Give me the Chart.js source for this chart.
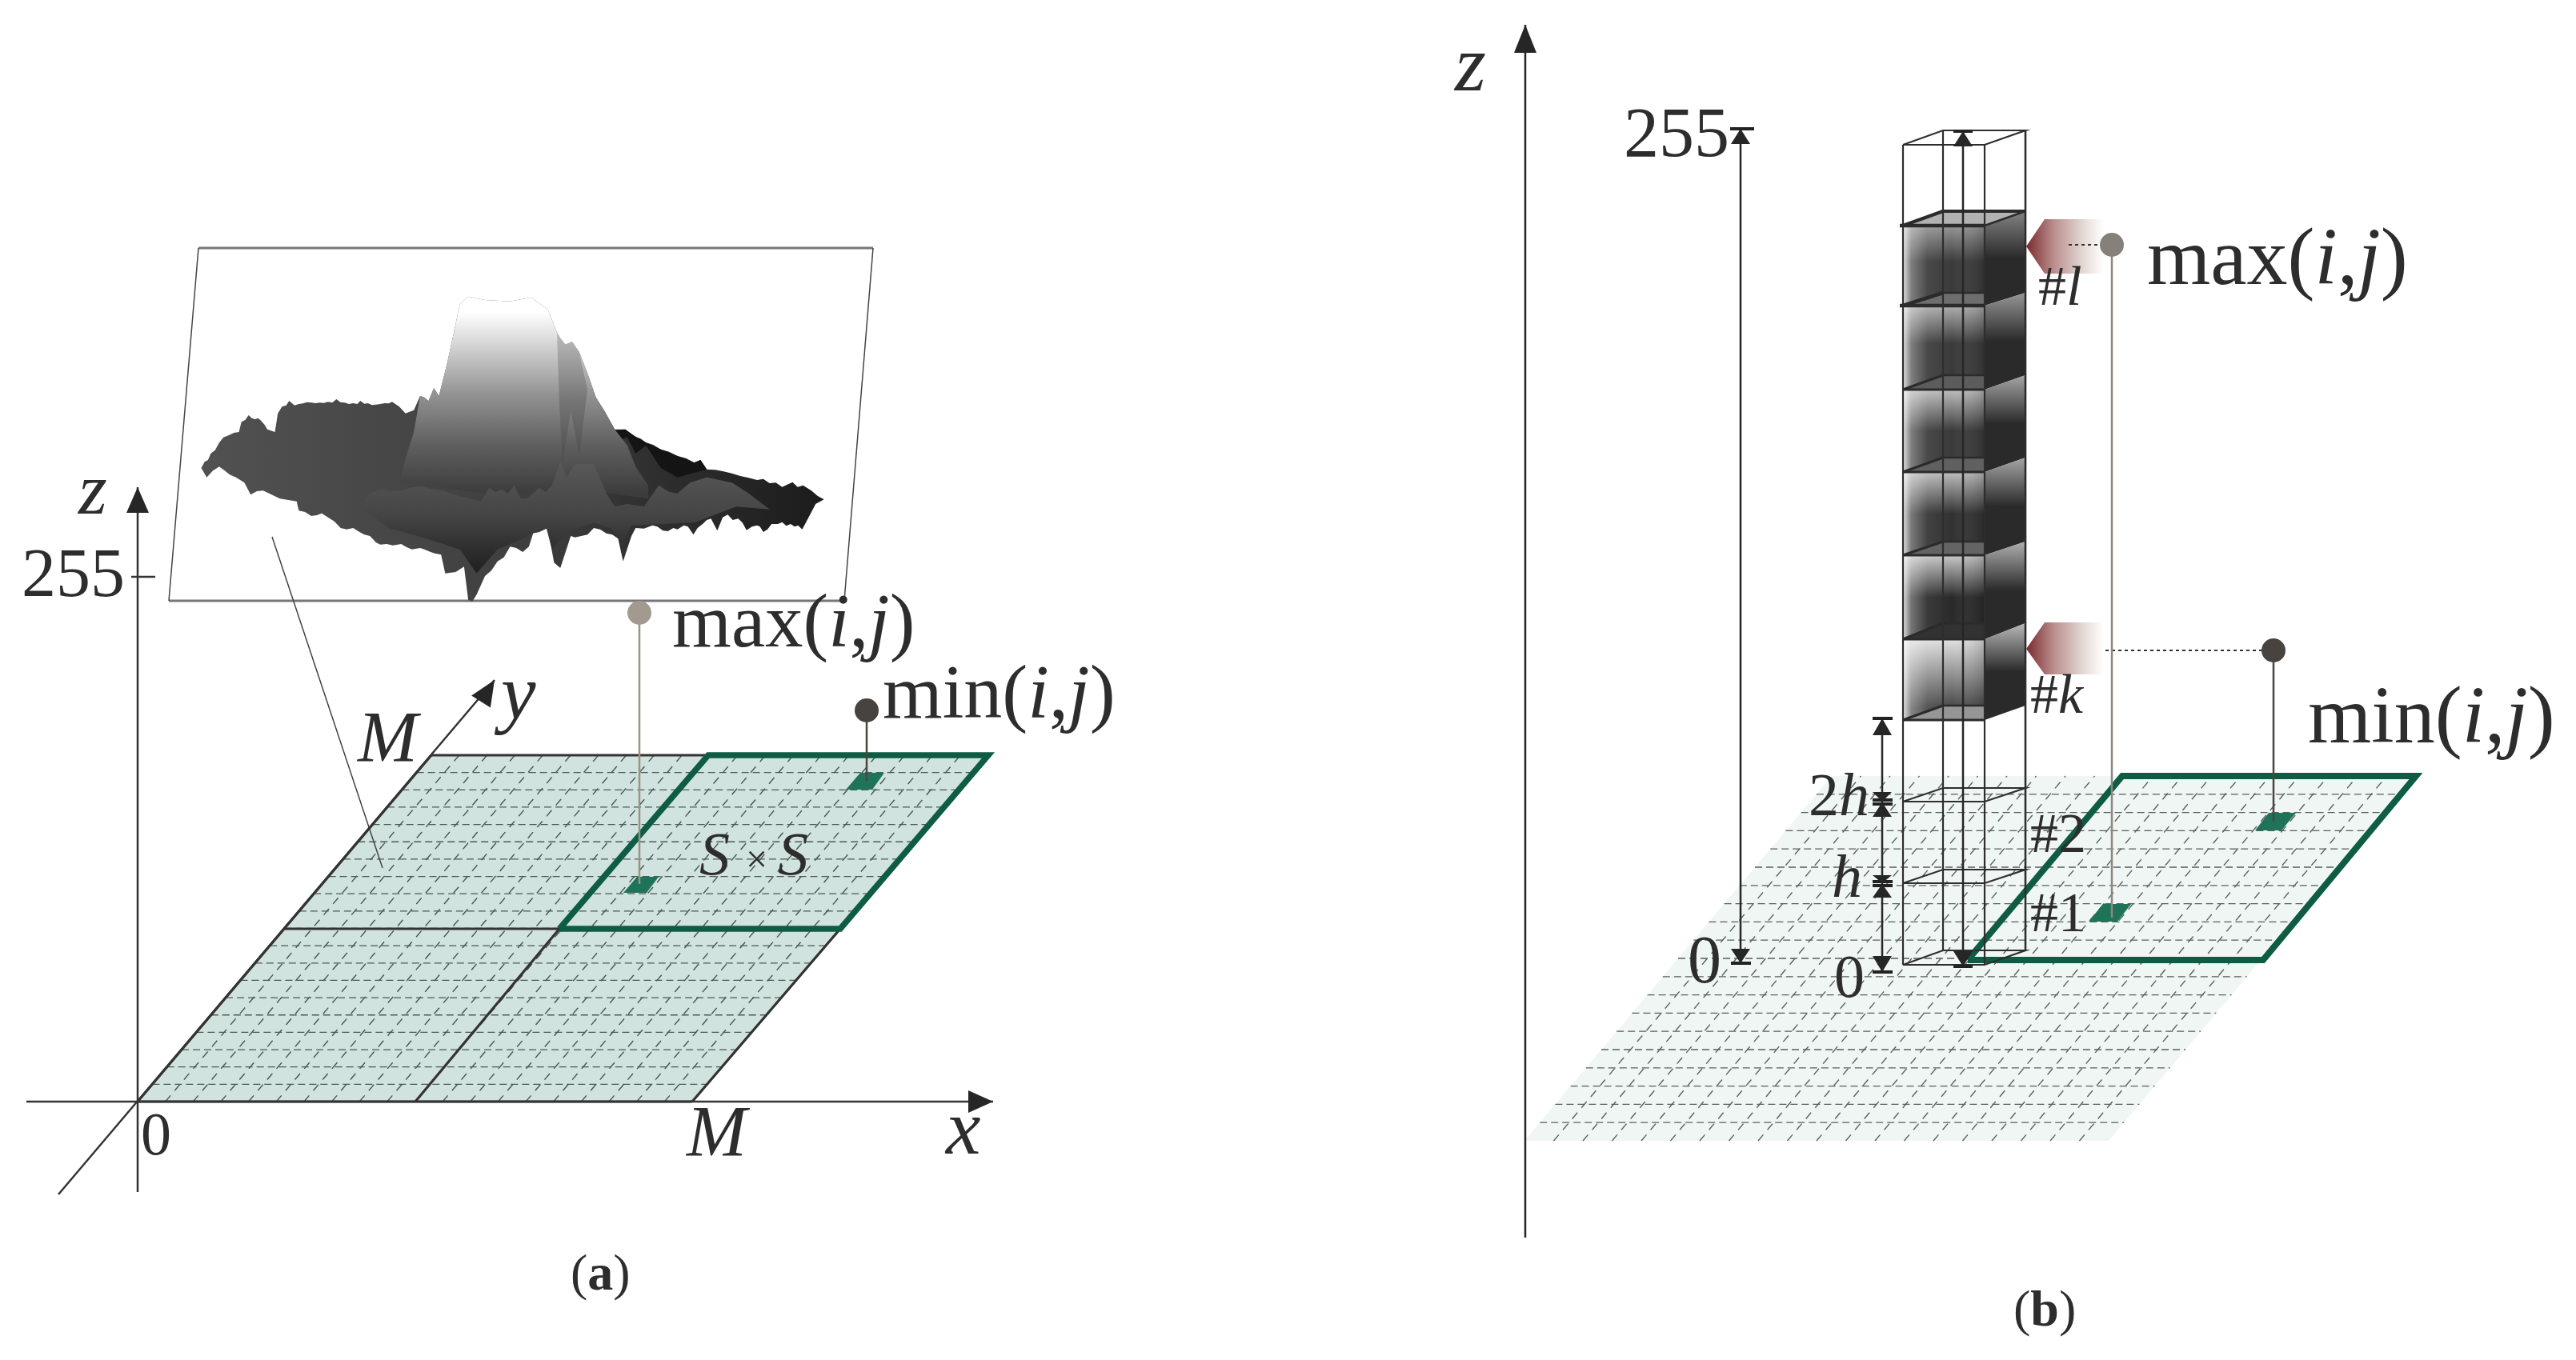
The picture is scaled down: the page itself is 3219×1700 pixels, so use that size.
<!DOCTYPE html>
<html>
<head>
<meta charset="utf-8">
<title>Height map slices</title>
<script src="https://cdn.jsdelivr.net/npm/chart.js@4/dist/chart.umd.min.js"></script>
<style>
    html, body { margin: 0; padding: 0; background: #fff; }
    canvas { display: block; }
</style>
</head>
<body>
<canvas id="chart" width="3219" height="1700"></canvas>
<script>
// panel (a), picture units
const planeA = [[172, 1377], [865, 1377], [1235, 944], [539, 944]];
const windowA = [[699, 1161], [1050, 1161], [1235, 944], [885, 944]];
const insetFrame = [[248, 310], [1091, 310], [1055, 751], [211, 751]];
const cellMaxA = [[779, 1116], [808, 1116], [823, 1096], [796, 1096]];
const cellMinA = [[1057, 987], [1090, 987], [1105, 966], [1075, 966]];
const darkEdgesA = [
    [[172, 1377], [539, 944]], [[539, 944], [885, 944]], [[355, 1161], [699, 1161]],
    [[519, 1377], [699, 1161]], [[865, 1377], [1050, 1161]], [[172, 1377], [865, 1377]],
];
const axesA = [
    [[33, 1377], [1241, 1377]], [[172, 1490], [172, 609]], [[73, 1493], [618, 850]], [[164, 721], [194, 721]],
];
const axisTipsA = [[172, 609, 172, 641], [1241, 1377, 1210, 1377], [618, 850, 601, 877]];
const leaderA = [[340, 671], [478, 1085]];

// surface outline, in its own units (see xSurface / ySurface scales)
const surfaceTop = [
    [22, 735], [30, 712], [38, 705], [45, 680], [55, 668], [65, 640], [75, 620], [88, 612], [100, 603], [112, 600], [118, 562],
    [127, 555], [135, 537], [143, 548], [150, 552], [158, 548], [165, 558], [173, 572], [180, 590], [198, 600], [205, 530],
    [215, 505], [225, 500], [232, 483], [245, 500], [255, 495], [265, 493], [275, 488], [285, 490], [295, 492], [305, 490],
    [315, 491], [325, 487], [335, 490], [345, 477], [355, 489], [365, 490], [375, 495], [385, 492], [395, 495], [402, 483],
    [412, 494], [420, 492], [430, 499], [440, 497], [450, 495], [460, 492], [470, 493], [478, 487], [495, 505], [510, 530],
    [530, 518], [545, 465], [555, 470], [565, 484], [578, 435], [590, 465], [610, 340], [625, 230], [640, 120], [660, 92],
    [700, 105], [760, 110], [810, 95], [850, 140], [870, 220], [880, 250], [892, 272], [908, 262], [925, 300], [945, 380],
    [965, 470], [985, 520], [1010, 590], [1035, 590], [1060, 618], [1072, 625], [1085, 640], [1102, 648], [1120, 665],
    [1140, 674], [1160, 690], [1180, 698], [1200, 715], [1215, 705], [1230, 740], [1250, 742], [1270, 748], [1290, 755],
    [1310, 765], [1330, 772], [1350, 780], [1365, 776], [1380, 792], [1395, 790], [1410, 806], [1435, 788], [1447, 806],
    [1460, 800], [1480, 820], [1495, 840], [1510, 853],
];
const surfaceBottom = [
    [1490, 870], [1480, 900], [1470, 930], [1458, 965], [1448, 950], [1440, 955], [1430, 945], [1420, 952], [1410, 938],
    [1400, 945], [1385, 945], [1375, 965], [1365, 975], [1357, 955], [1350, 950], [1338, 955], [1325, 968], [1315, 940],
    [1305, 925], [1292, 930], [1280, 910], [1268, 920], [1255, 970], [1240, 925], [1230, 930], [1220, 945], [1208, 960],
    [1198, 985], [1185, 955], [1175, 950], [1160, 965], [1150, 960], [1137, 972], [1125, 970], [1112, 955], [1100, 950],
    [1080, 962], [1060, 960], [1050, 990], [1030, 1085], [1018, 1000], [1004, 985], [990, 980], [975, 965], [960, 960],
    [945, 985], [930, 990], [915, 995], [905, 990], [880, 1110], [865, 1090], [850, 960], [830, 975], [815, 980],
    [805, 1030], [790, 1050], [775, 1035], [760, 1030], [745, 1070], [730, 1085], [715, 1120], [700, 1140], [680, 1210],
    [670, 1235], [660, 1230], [650, 1105], [630, 1125], [605, 1130], [595, 1060], [580, 1055], [570, 1050], [555, 1040],
    [545, 1035], [525, 1040], [510, 1030], [500, 1020], [480, 1025], [465, 1020], [450, 1022], [440, 1015], [425, 990],
    [412, 985], [400, 975], [385, 960], [370, 965], [355, 960], [340, 935], [325, 920], [310, 905], [298, 912], [285, 915],
    [270, 900], [255, 895], [250, 860], [230, 855], [210, 850], [190, 835], [170, 820], [155, 822], [140, 835], [125, 790],
    [105, 770], [90, 760], [78, 745], [65, 730], [50, 745], [35, 770],
];
const surfacePeak = [
    [495, 790], [510, 700], [530, 600], [545, 465], [555, 470], [565, 484], [578, 435], [590, 465], [610, 340], [625, 230],
    [640, 120], [660, 92], [700, 105], [760, 110], [810, 95], [850, 140], [870, 220], [880, 250], [892, 272], [908, 262],
    [925, 300], [945, 380], [965, 470], [985, 520], [1010, 590], [1040, 650], [1060, 730], [1090, 800], [1090, 850],
    [1000, 830], [900, 820], [700, 830], [600, 810],
];
const surfaceFold = [[872, 230], [892, 272], [908, 262], [925, 300], [945, 440], [925, 690], [905, 520], [885, 720], [878, 500]];
const surfaceBack = [
    [1010, 595], [1035, 590], [1060, 618], [1085, 640], [1120, 665], [1160, 690], [1200, 715], [1215, 705], [1230, 740],
    [1160, 770], [1120, 735], [1085, 650], [1060, 680], [1040, 620], [1020, 630],
];
const surfaceFront = [
    [400, 880], [425, 830], [450, 815], [475, 822], [500, 820], [525, 808], [550, 805], [575, 815], [600, 820], [625, 835],
    [650, 845], [690, 860], [710, 810], [725, 825], [740, 815], [755, 830], [770, 800], [785, 850], [800, 850], [830, 810],
    [845, 825], [860, 800], [880, 710], [895, 770], [915, 720], [960, 720], [990, 830], [1010, 880], [1040, 870], [1080, 880],
    [1115, 800], [1140, 825], [1160, 830], [1190, 790], [1230, 770], [1290, 790], [1330, 830], [1380, 890], [1300, 880],
    [1200, 940], [1050, 950], [1030, 1010], [1000, 960], [960, 940], [890, 980], [860, 1040], [845, 950], [790, 1000], [730, 1040],
    [680, 1130], [640, 1040], [560, 1000], [470, 960],
];

// panel (b), picture units
const planeB = [[1905, 1426], [2635, 1426], [3019, 970], [2289, 970]];
const windowB = [[2459, 1200], [2828, 1200], [3019, 970], [2652, 970]];
const cellMaxB = [[2610, 1152], [2646, 1152], [2663, 1130], [2628, 1130]];
const cellMinB = [[2818, 1038], [2851, 1038], [2869, 1016], [2835, 1016]];
const columnX = [2378, 2428, 2480, 2531];
const sliceFront = [282, 382, 487, 590, 694, 799, 900];
const sliceBack = [264, 366, 469, 572, 677, 779, 882];
const sliceLight = [150, 175, 190, 190, 200, 225];
const sliceDark = [58, 58, 58, 50, 42, 70];
const sliceFade = [0.45, 0.45, 0.5, 0.5, 0.5, 0.85];
const sideLight = [130, 150, 165, 165, 175, 185];
const capGray = [178, 110, 92, 96, 100, 50, 150];
const wireFront = [181, 1002, 1104, 1206];
const wireBack = [163, 985, 1087, 1188];
const measureLinesB = [
    [[1906, 1547], [1906, 31]], [[2175, 161], [2175, 1204]], [[2352, 898], [2352, 1215]], [[2453, 164], [2453, 1208]],
];
const measureBars = [
    [2162, 2192, 161], [2163, 2188, 1204], [2340, 2365, 898], [2340, 2365, 1000], [2340, 2365, 1005],
    [2340, 2365, 1102], [2340, 2365, 1107], [2340, 2365, 1215], [2441, 2465, 164], [2441, 2465, 1208],
];
const measureTips = [
    [1906, 31, 1906, 66], [2175, 161, 2175, 180], [2175, 1204, 2175, 1186], [2352, 898, 2352, 919],
    [2352, 1002, 2352, 990], [2352, 1003, 2352, 1021], [2352, 1104, 2352, 1094], [2352, 1105, 2352, 1122],
    [2352, 1215, 2352, 1195], [2453, 164, 2453, 183], [2453, 1208, 2453, 1189],
];
const markerL = [[2532, 308], [2555, 274], [2629, 274], [2629, 342], [2555, 342]];
const markerK = [[2532, 811], [2555, 778], [2629, 778], [2629, 843], [2555, 843]];

// stems and dots
const stems = [
    [[799, 766], [799, 1105], "#9a9288"], [[1083, 888], [1083, 976], "#4a4642"],
    [[2639, 306], [2639, 1147], "#8d8780"], [[2841, 813], [2841, 1027], "#4a4642"],
];
const dots = [[799, 766, "#a39a8f"], [1083, 888, "#48433f"], [2639, 306, "#85807a"], [2841, 813, "#48433f"]];
const dottedLines = [[[2631, 813], [2841, 813]], [[2585, 306], [2639, 306]]];

// text: x, baseline, size, segments of [string, style]
const labels = [
    [98, 642, 92, [["z", "i"]]],
    [27, 745, 86, [["255", ""]]],
    [840, 808, 95, [["max(", ""], ["i", "i"], [",", ""], ["j", "i"], [")", ""]]],
    [1103, 897, 96, [["min(", ""], ["i", "i"], [",", ""], ["j", "i"], [")", ""]]],
    [626, 898, 98, [["y", "i"]]],
    [447, 952, 90, [["M", "i"]]],
    [874, 1093, 76, [["S", "i"]]],
    [932, 1090, 48, [["×", ""]]],
    [972, 1093, 76, [["S", "i"]]],
    [176, 1443, 76, [["0", ""]]],
    [858, 1445, 90, [["M", "i"]]],
    [1182, 1442, 98, [["x", "i"]]],
    [713, 1612, 64, [["(", ""], ["a", "b"], [")", ""]]],
    [1818, 113, 100, [["z", "i"]]],
    [2029, 195, 88, [["255", ""]]],
    [2683, 355, 102, [["max(", ""], ["i", "i"], [",", ""], ["j", "i"], [")", ""]]],
    [2884, 928, 102, [["min(", ""], ["i", "i"], [",", ""], ["j", "i"], [")", ""]]],
    [2547, 381, 70, [["#", ""], ["l", "i"]]],
    [2537, 891, 70, [["#", ""], ["k", "i"]]],
    [2537, 1065, 70, [["#2", ""]]],
    [2537, 1164, 70, [["#1", ""]]],
    [2109, 1228, 84, [["0", ""]]],
    [2292, 1246, 76, [["0", ""]]],
    [2260, 1019, 76, [["2", ""], ["h", "i"]]],
    [2289, 1121, 76, [["h", "i"]]],
    [2516, 1657, 64, [["(", ""], ["b", "b"], [")", ""]]],
];

const GRID_CELLS = 20;
const LINE_DARK = "#333333";
const GREEN = "#0f5c45";
const CELL_GREEN = "#1f7359";
const toPoints = (pairs) => pairs.map(([x, y]) => ({ x, y }));
const gray = (v) => `rgb(${v},${v},${v})`;
const marks = [];

function addLine(pairs, color, width, dash) {
    marks.push({ data: toPoints(pairs), borderColor: color, borderWidth: width, borderDash: dash || [], fill: false });
}

function addShape(pairs, background, edge, width, axes) {
    marks.push({
        data: toPoints([...pairs, pairs[0]]),
        backgroundColor: background,
        borderColor: edge || "transparent",
        borderWidth: edge ? width : 0,
        fill: "shape",
        xAxisID: axes ? "xSurface" : "x",
        yAxisID: axes ? "ySurface" : "y",
    });
}

// builds a gradient along a line between two values of the named scales
function gradient(xId, yId, from, to, stops) {
    return (context) => {
        const { chart } = context;
        const x0 = chart.scales[xId].getPixelForValue(from[0]);
        const y0 = chart.scales[yId].getPixelForValue(from[1]);
        const x1 = chart.scales[xId].getPixelForValue(to[0]);
        const y1 = chart.scales[yId].getPixelForValue(to[1]);
        if (![x0, y0, x1, y1].every(Number.isFinite)) {
            return "transparent";
        }
        const g = chart.ctx.createLinearGradient(x0, y0, x1, y1);
        stops.forEach(([at, color]) => g.addColorStop(at, color));
        return g;
    };
}

function addPlane(corners, fillColor, rowColor, columnColor) {
    const [bl, br, tr, tl] = corners;
    addShape(corners, fillColor);
    for (let i = 1; i < GRID_CELLS; i += 1) {
        const t = i / GRID_CELLS;
        addLine([[bl[0] + (br[0] - bl[0]) * t, bl[1]], [tl[0] + (tr[0] - tl[0]) * t, tl[1]]], columnColor, 1.4, [10, 8]);
        addLine([[bl[0] + (tl[0] - bl[0]) * t, bl[1] + (tl[1] - bl[1]) * t], [br[0] + (tr[0] - br[0]) * t, br[1] + (tr[1] - br[1]) * t]], rowColor, 1.3, [9, 5]);
    }
}

function addTip([tipX, tipY, baseX, baseY], halfWidth) {
    const len = Math.hypot(baseX - tipX, baseY - tipY);
    const nx = -(baseY - tipY) / len * halfWidth;
    const ny = (baseX - tipX) / len * halfWidth;
    addShape([[tipX, tipY], [baseX + nx, baseY + ny], [baseX - nx, baseY - ny]], "#262626");
}

function drawPanelA() {
    addPlane(planeA, "#d1e3de", "#4a5a55", "#465651");
    addShape(insetFrame, "#ffffff");
    addLine([insetFrame[0], insetFrame[1]], "#777777", 3);
    addLine([insetFrame[2], insetFrame[3]], "#777777", 3);
    addLine([insetFrame[1], insetFrame[2]], "#444444", 1.5);
    addLine([insetFrame[3], insetFrame[0]], "#444444", 1.5);
    addLine(leaderA, "#444444", 1.5);

    addShape([...surfaceTop, ...surfaceBottom], gradient("xSurface", "ySurface", [0, 0], [1500, 0], [[0, "#525252"], [0.5, "#404040"], [1, "#1c1c1c"]]), null, 0, true);
    addShape(surfaceBack, "#141414", null, 0, true);
    addShape(surfacePeak, gradient("xSurface", "ySurface", [0, 92], [0, 830], [[0, "#ffffff"], [0.08, "#ffffff"], [0.2, "#e0e0e0"], [0.5, "#929292"], [0.75, "#606060"], [1, "#3c3c3c"]]), null, 0, true);
    addShape(surfaceFold, gradient("xSurface", "ySurface", [0, 230], [0, 720], [[0, "#bbbbbb"], [0.5, "#777777"], [1, "#4a4a4a"]]), null, 0, true);
    addShape(surfaceFront, gradient("xSurface", "ySurface", [0, 720], [0, 1100], [[0, "#585858"], [0.5, "#454545"], [1, "#242424"]]), null, 0, true);

    darkEdgesA.forEach((edge) => addLine(edge, LINE_DARK, 3.2));
    addLine([planeA[1], planeA[2]], LINE_DARK, 2);
    axesA.forEach((axis) => addLine(axis, LINE_DARK, 2.5));
    axisTipsA.forEach((tip) => addTip(tip, 14));
    addShape(windowA, "transparent", GREEN, 7.5);
    addShape(cellMaxA, CELL_GREEN);
    addShape(cellMinA, CELL_GREEN);
}

function addSlice(i) {
    const [x0, x1, x2, x3] = columnX;
    const top = sliceFront[i];
    const bottom = sliceFront[i + 1];
    addShape([[x0, top], [x2, top], [x2, bottom], [x0, bottom]], gradient("x", "y", [0, top], [0, bottom], [
        [0, gray(sliceLight[i])], [sliceFade[i], gray(sliceDark[i])], [1, gray(sliceDark[i])],
    ]));
    addShape([[x0, top], [x2, top], [x2, bottom], [x0, bottom]], gradient("x", "y", [x0, 0], [x2, 0], [
        [0, "rgba(255,255,255,0.85)"], [0.1, "rgba(255,255,255,0.35)"], [0.3, "rgba(255,255,255,0.08)"], [0.6, "rgba(255,255,255,0)"], [1, "rgba(0,0,0,0.18)"],
    ]));
    addShape([[x2, top], [x3, sliceBack[i]], [x3, sliceBack[i + 1]], [x2, bottom]], gradient("x", "y", [0, sliceBack[i]], [0, bottom], [
        [0, gray(sideLight[i])], [0.5, "#2a2a2a"], [1, "#2a2a2a"],
    ]));
}

function drawPanelB() {
    addPlane(planeB, "#f0f6f4", "#565f5d", "#59635f");
    addShape(cellMaxB, CELL_GREEN);
    addShape(cellMinB, CELL_GREEN);
    addShape(windowB, "transparent", GREEN, 8);

    const [x0, x1, x2, x3] = columnX;
    sliceLight.forEach((_, i) => addSlice(i));
    capGray.forEach((value, i) => {
        const f = sliceFront[i];
        const b = sliceBack[i];
        addShape(i === 0 ? [[x0, f], [x1, b], [x3, b], [x2, f]] : [[x0, f], [x1, b], [x2, b], [x2, f]], gray(value));
    });
    sliceFront.forEach((f, i) => {
        addLine([[i < 2 ? x0 - 4 : x0, f], [x2, f]], "#2b2b2b", i < 2 ? 4.5 : 3);
        addLine([[x0, f], [x1, sliceBack[i]]], "#2b2b2b", i < 2 ? 4.5 : 3);
        addLine([[x1, sliceBack[i]], [x2, sliceBack[i]]], "#2b2b2b", 2.5);
    });
    addLine([[x1, sliceBack[0]], [x3, sliceBack[0]]], "#2b2b2b", 4);
    addLine([[x2, sliceFront[0]], [x3, sliceBack[0]]], "#2b2b2b", 2.5);

    wireFront.forEach((f, i) => {
        const b = wireBack[i];
        addShape([[x0, f], [x1, b], [x3, b], [x2, f]], "transparent", "#2e2e2e", 2.2);
    });
    addLine([[x0, 181], [x0, 1206]], "#2e2e2e", 2.2);
    addLine([[x1, 163], [x1, 1188]], "#2e2e2e", 2.2);
    addLine([[x2, 181], [x2, 1206]], "#2e2e2e", 2.2);
    addLine([[x3, 163], [x3, 1188]], "#2e2e2e", 2.6);

    measureLinesB.forEach((line) => addLine(line, "#262626", 2.5));
    measureBars.forEach(([from, to, y]) => addLine([[from, y], [to, y]], "#222222", 4));
    measureTips.forEach((tip) => addTip(tip, tip[0] === 1906 ? 14 : 12));

    addShape(markerL, gradient("x", "y", [2532, 0], [2629, 0], [[0, "#7c2a2e"], [0.35, "#b98d8c"], [0.75, "#e5dcd8"], [1, "#ffffff"]]));
    addShape(markerK, gradient("x", "y", [2532, 0], [2629, 0], [[0, "#7c2a2e"], [0.35, "#b98d8c"], [0.75, "#e5dcd8"], [1, "#ffffff"]]));
    dottedLines.forEach((line) => addLine(line, "#333333", 2.2, [4, 4]));
}

function drawStems() {
    stems.forEach(([from, to, color]) => addLine([from, to], color, 2.5));
    dots.forEach(([x, y, color]) => {
        marks.push({ data: [{ x, y }], pointRadius: 15, pointBackgroundColor: color, pointBorderWidth: 0, showLine: false });
    });
}

drawPanelA();
drawPanelB();
drawStems();

const fontFor = (size, style) => {
    const weight = style === "b" ? "bold " : "";
    const slant = style === "i" ? "italic " : "";
    return `${slant}${weight}${size}px "Liberation Serif"`;
};

const labelPlugin = {
    id: "labels",
    afterDraw(chart) {
        const { ctx, scales } = chart;
        ctx.save();
        ctx.fillStyle = "#2d2d2d";
        ctx.textBaseline = "alphabetic";
        labels.forEach(([x, y, size, segments]) => {
            let left = scales.x.getPixelForValue(x);
            const base = scales.y.getPixelForValue(y);
            segments.forEach(([text, style]) => {
                ctx.font = fontFor(size, style);
                ctx.fillText(text, left, base);
                left += ctx.measureText(text).width;
            });
        });
        ctx.restore();
    },
};

const hiddenScale = (min, max, reverse) => ({ type: "linear", display: false, min, max, reverse });

new Chart(document.getElementById("chart"), {
    type: "scatter",
    data: { datasets: marks.slice().reverse().map((mark) => ({ showLine: true, pointRadius: 0, tension: 0, ...mark })) },
    options: {
        responsive: false,
        animation: false,
        events: [],
        devicePixelRatio: 1,
        layout: { padding: 0, autoPadding: false },
        plugins: { legend: { display: false }, tooltip: { enabled: false }, title: { display: false } },
        scales: {
            x: hiddenScale(0, 3219),
            y: hiddenScale(0, 1700, true),
            xSurface: hiddenScale(-458.9, 5696.5),
            ySurface: hiddenScale(-1020, 4080, true),
        },
    },
    plugins: [labelPlugin],
});
</script>
</body>
</html>
